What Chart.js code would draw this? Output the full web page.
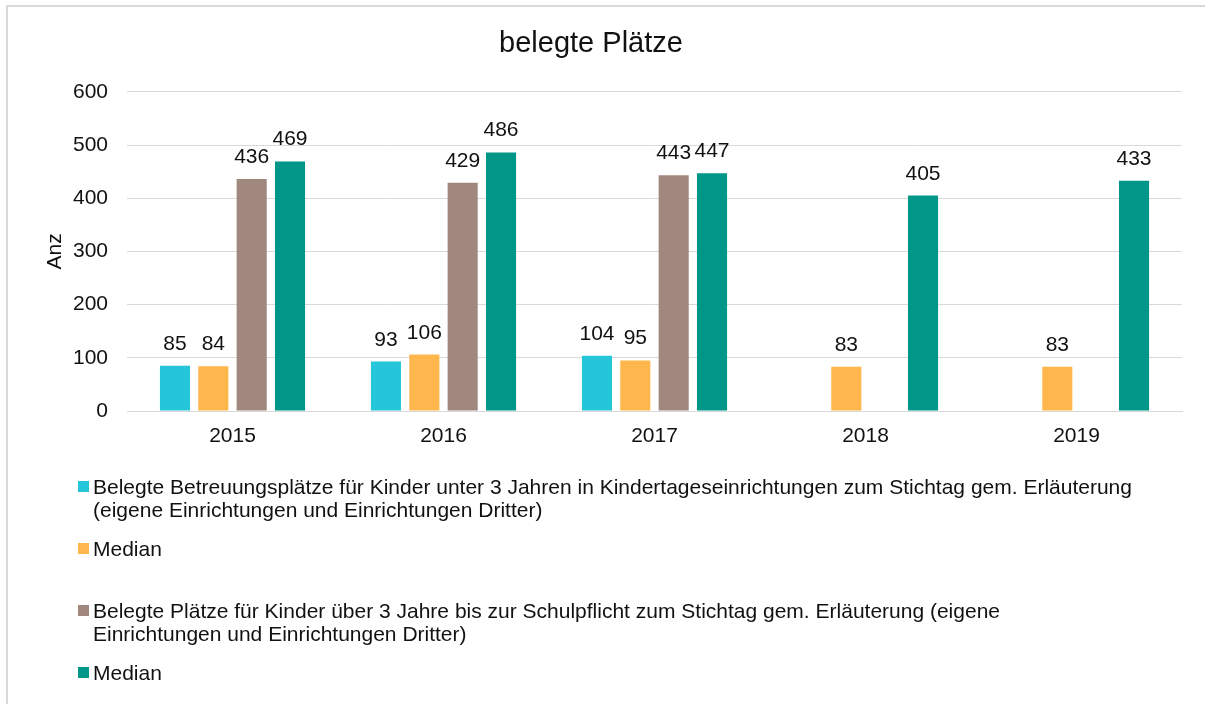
<!DOCTYPE html>
<html lang="de">
<head>
<meta charset="utf-8">
<title>belegte Plätze</title>
<script src="https://cdn.jsdelivr.net/npm/chart.js@4/dist/chart.umd.min.js"></script>
<style>
  html, body { margin: 0; padding: 0; background: #fff; }
  body { width: 1205px; height: 704px; position: relative; overflow: hidden;
         font-family: "Liberation Sans", Arial, sans-serif; color: #111; }
  #frame { position: absolute; left: 6px; top: 5px; width: 1300px; height: 800px;
           border: 2px solid #d9d9d9; box-sizing: border-box; }
  #wrap { position: absolute; left: 0; top: 0; width: 1205px; height: 704px; }
  #legend { position: absolute; left: 78px; top: 475px; }
  .item { display: flex; align-items: flex-start; min-height: 46px; margin-bottom: 16px; }
  .swatch { width: 11px; height: 11px; margin-top: 6px; margin-right: 4px; flex: none; }
  .text { font-size: 21px; line-height: 23px; width: 1040px; }
</style>
</head>
<body>
<div id="frame"></div>
<div id="wrap"><canvas id="chart" width="1205" height="704"></canvas></div>
<div id="legend"></div>
<script>
// Jahre auf der x-Achse
const years = ['2015', '2016', '2017', '2018', '2019'];

// Werte je Reihe (null = kein Wert in diesem Jahr)
const unter3 = [85, 93, 104, null, null];
const unter3Median = [84, 106, 95, 83, 83];
const ueber3 = [436, 429, 443, null, null];
const ueber3Median = [469, 486, 447, 405, 433];

// Reihenbezeichnungen
const seriesLabels = [
  'Belegte Betreuungsplätze für Kinder unter 3 Jahren in Kindertageseinrichtungen zum Stichtag gem. Erläuterung (eigene Einrichtungen und Einrichtungen Dritter)',
  'Median',
  'Belegte Plätze für Kinder über 3 Jahre bis zur Schulpflicht zum Stichtag gem. Erläuterung (eigene Einrichtungen und Einrichtungen Dritter)',
  'Median'
];

// Achsenbeschriftung
const yTicks = [0, 100, 200, 300, 400, 500, 600];

const colors = ['#26c6da', '#ffb74d', '#a1887f', '#009688'];
const seriesData = [unter3, unter3Median, ueber3, ueber3Median];
const FONT = '"Liberation Sans", Arial, sans-serif';
const TEXT = '#111';

// Wert über jedem Balken ausgeben
const valueLabels = {
  id: 'valueLabels',
  afterDatasetsDraw(chart) {
    const ctx = chart.ctx;
    ctx.save();
    ctx.font = '21px ' + FONT;
    ctx.fillStyle = TEXT;
    ctx.textAlign = 'center';
    ctx.textBaseline = 'alphabetic';
    chart.data.datasets.forEach((ds, i) => {
      const meta = chart.getDatasetMeta(i);
      meta.data.forEach((bar, j) => {
        const v = ds.data[j];
        if (v === null || v === undefined) return;
        ctx.fillText(String(v), bar.x, bar.y - 16);
      });
    });
    ctx.restore();
  }
};

const chart = new Chart(document.getElementById('chart'), {
  type: 'bar',
  data: {
    labels: years,
    datasets: seriesData.map((d, i) => ({
      label: seriesLabels[i],
      data: d,
      backgroundColor: colors[i],
      borderWidth: 0,
      categoryPercentage: 0.727,
      barPercentage: 0.785
    }))
  },
  options: {
    responsive: false,
    animation: false,
    layout: { padding: { left: 0, right: 23, top: 0, bottom: 253 } },
    plugins: {
      legend: { display: false },
      tooltip: { enabled: false },
      title: {
        display: true,
        text: 'belegte Plätze',
        color: TEXT,
        font: { family: FONT, size: 29, weight: 'normal', lineHeight: 1.2 },
        padding: { top: 27, bottom: 30 }
      }
    },
    scales: {
      x: {
        grid: { display: false, drawTicks: false },
        border: { display: true, color: '#d9d9d9', width: 1 },
        ticks: { color: TEXT, font: { family: FONT, size: 21 }, padding: 13 },
        afterFit: s => { s.height = 40; }
      },
      y: {
        min: 0,
        max: 600,
        afterBuildTicks: s => { s.ticks = yTicks.map(v => ({ value: v })); },
        grid: { color: '#d9d9d9', lineWidth: 1, drawTicks: false },
        border: { display: false },
        ticks: { color: TEXT, font: { family: FONT, size: 21 }, padding: 19 },
        title: {
          display: true,
          text: 'Anz',
          color: TEXT,
          font: { family: FONT, size: 21 },
          padding: { top: 43, bottom: 0 }
        },
        afterFit: s => { s.width = 127; }
      }
    }
  },
  plugins: [valueLabels]
});

// Legende als Liste unter dem Diagramm
const legend = document.getElementById('legend');
chart.data.datasets.forEach(ds => {
  const item = document.createElement('div');
  item.className = 'item';
  const sw = document.createElement('span');
  sw.className = 'swatch';
  sw.style.background = ds.backgroundColor;
  const tx = document.createElement('span');
  tx.className = 'text';
  tx.textContent = ds.label;
  item.appendChild(sw);
  item.appendChild(tx);
  legend.appendChild(item);
});
</script>
</body>
</html>
